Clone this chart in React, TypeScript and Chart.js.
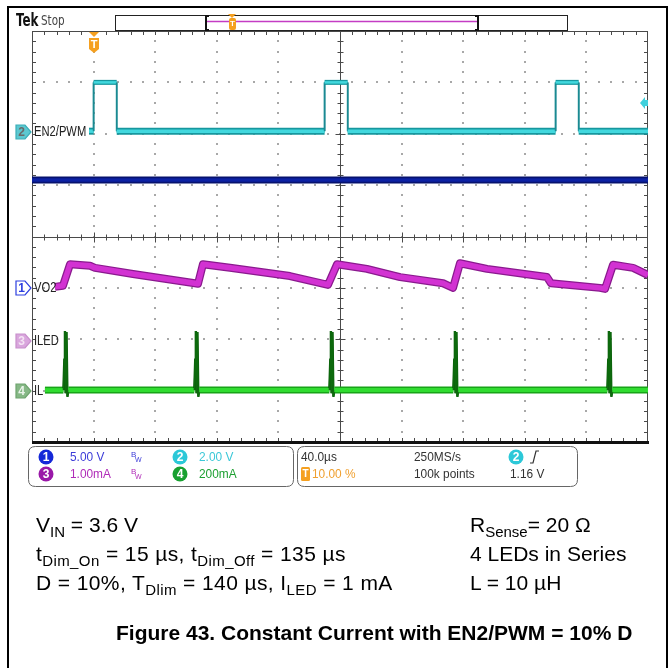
import React, { useEffect, useRef } from "react";
import { Chart, registerables } from "chart.js";

Chart.register(...registerables);

// Horizontal axis: time in µs (40 µs/div, trigger at 0 µs = 10 % of record)
// Vertical axis: screen divisions measured from the graticule centre
const timeRangeUs = [-40, 360];
const divRange = [-4, 4];

// Ch2 – EN2/PWM
const pwmTimeUs = [-3, 0, 0, 15, 15, 150, 150, 165, 165, 300, 300, 315, 315, 360];
const pwmDiv = [2.05, 2.05, 3.0, 3.0, 2.05, 2.05, 3.0, 3.0, 2.05, 2.05, 3.0, 3.0, 2.05, 2.05];

// blue flat trace
const flatTimeUs = [-40, 360];
const flatDiv = [1.1, 1.1];

// VO2 ripple
const vo2TimeUs = [-25.1, -19.9, -15.3, -2.3, 0.9, 25.6, 65.8, 67.8, 71.0, 88.6, 127.5, 152.2, 158.1, 177.5, 199.0, 226.9, 233.4, 237.9, 255.5, 294.4, 297.0, 328.8, 332.1, 337.3, 350.3, 360];
const vo2Div = [-0.98, -0.96, -0.54, -0.57, -0.61, -0.73, -0.91, -0.92, -0.54, -0.61, -0.77, -0.94, -0.54, -0.63, -0.79, -0.91, -1.0, -0.52, -0.63, -0.79, -0.91, -1.0, -1.02, -0.55, -0.61, -0.75];

// IL inductor current with spikes
const ilTimeUs = [
  -31.6, -19.6, -19.0, -18.6, -18.2, -17.6, -17.0, -16.4,
  65.4, 66.0, 66.4, 66.8, 67.4, 68.0, 68.6,
  153.1, 153.7, 154.1, 154.5, 155.1, 155.7, 156.3,
  233.6, 234.2, 234.6, 235.0, 235.6, 236.2, 236.8,
  333.6, 334.2, 334.6, 335.0, 335.6, 336.2, 336.8,
  360,
];
const ilDiv = [
  -2.99, -2.99, -2.4, -1.84, -3.05, -1.86, -3.12, -2.99,
  -2.99, -2.4, -1.84, -3.05, -1.86, -3.12, -2.99,
  -2.99, -2.4, -1.84, -3.05, -1.86, -3.12, -2.99,
  -2.99, -2.4, -1.84, -3.05, -1.86, -3.12, -2.99,
  -2.99, -2.4, -1.84, -3.05, -1.86, -3.12, -2.99,
  -2.99,
];

const PAD = { left: 32, top: 31, right: 23, bottom: 226 };
const W = 671;
const H = 668;

const xy = (xs: number[], ys: number[]) => xs.map((x, i) => ({ x, y: ys[i] }));
const isFlat = (c: any) => Math.abs(c.p0.parsed.y - c.p1.parsed.y) < 0.08;

function narrow(ctx: CanvasRenderingContext2D, text: string, x: number, y: number, font: string, color: string, sx = 0.85) {
  ctx.save();
  ctx.font = font;
  ctx.fillStyle = color;
  ctx.textBaseline = "middle";
  ctx.textAlign = "left";
  ctx.translate(x, y);
  ctx.scale(sx, 1);
  ctx.fillText(text, 0, 0);
  ctx.restore();
}

function line(ctx: CanvasRenderingContext2D, x1: number, y1: number, x2: number, y2: number) {
  ctx.beginPath();
  ctx.moveTo(x1, y1);
  ctx.lineTo(x2, y2);
  ctx.stroke();
}

function rrect(ctx: CanvasRenderingContext2D, x: number, y: number, w: number, h: number, r: number) {
  ctx.beginPath();
  ctx.moveTo(x + r, y);
  ctx.lineTo(x + w - r, y);
  ctx.quadraticCurveTo(x + w, y, x + w, y + r);
  ctx.lineTo(x + w, y + h - r);
  ctx.quadraticCurveTo(x + w, y + h, x + w - r, y + h);
  ctx.lineTo(x + r, y + h);
  ctx.quadraticCurveTo(x, y + h, x, y + h - r);
  ctx.lineTo(x, y + r);
  ctx.quadraticCurveTo(x, y, x + r, y);
  ctx.closePath();
}

const NARROW = '"Liberation Sans", Arial, sans-serif';

function drawGraticule(ctx: CanvasRenderingContext2D, a: any) {
  const L = a.left, T = a.top, R = a.right, B = a.bottom;
  const dx = (R - L) / 10, dy = (B - T) / 8;
  ctx.save();
  ctx.fillStyle = "#a8a8a8";
  for (let i = 1; i < 10; i++) {
    if (i === 5) continue;
    const x = Math.round(L + i * dx);
    for (let k = 1; k < 40; k++) {
      const y = Math.round(T + (k * dy) / 5);
      ctx.fillRect(x - 1, y - 1, 2, 2);
    }
  }
  for (let j = 1; j < 8; j++) {
    if (j === 4) continue;
    const y = Math.round(T + j * dy);
    for (let k = 1; k < 50; k++) {
      const x = Math.round(L + (k * dx) / 5);
      ctx.fillRect(x - 1, y - 1, 2, 2);
    }
  }
  ctx.strokeStyle = "#4a4a4a";
  ctx.lineWidth = 1;
  const cx = Math.round(L + 5 * dx) + 0.5;
  const cy = Math.round(T + 4 * dy) + 0.5;
  line(ctx, cx, T, cx, B);
  line(ctx, L, cy, R, cy);
  for (let k = 1; k < 40; k++) {
    const y = Math.round(T + (k * dy) / 5) + 0.5;
    const len = k % 5 === 0 ? 5 : 3;
    line(ctx, cx - len, y, cx + len, y);
    line(ctx, L, y, L + 4, y);
    line(ctx, R - 4, y, R, y);
  }
  for (let k = 1; k < 50; k++) {
    const x = Math.round(L + (k * dx) / 5) + 0.5;
    const len = k % 5 === 0 ? 5 : 3;
    line(ctx, x, cy - len, x, cy + len);
    line(ctx, x, T, x, T + 4);
    line(ctx, x, B - 4, x, B);
  }
  line(ctx, L + 0.5, T, L + 0.5, B);
  line(ctx, R - 0.5, T, R - 0.5, B);
  line(ctx, L, T + 0.5, R, T + 0.5);
  ctx.restore();
}

function chMarker(ctx: CanvasRenderingContext2D, y: number, fill: string, stroke: string, txt: string, txtColor: string) {
  ctx.save();
  ctx.beginPath();
  ctx.moveTo(16, y - 7);
  ctx.lineTo(25, y - 7);
  ctx.lineTo(31, y);
  ctx.lineTo(25, y + 7);
  ctx.lineTo(16, y + 7);
  ctx.closePath();
  ctx.fillStyle = fill;
  ctx.fill();
  ctx.strokeStyle = stroke;
  ctx.lineWidth = 1.2;
  ctx.stroke();
  ctx.fillStyle = txtColor;
  ctx.font = `bold 12px ${NARROW}`;
  ctx.textAlign = "center";
  ctx.textBaseline = "middle";
  ctx.fillText(txt, 21.5, y + 0.5);
  ctx.restore();
}

function circleNum(ctx: CanvasRenderingContext2D, x: number, y: number, fill: string, txt: string) {
  ctx.save();
  ctx.beginPath();
  ctx.arc(x, y, 7.5, 0, Math.PI * 2);
  ctx.fillStyle = fill;
  ctx.fill();
  ctx.fillStyle = "#fff";
  ctx.font = `bold 12px ${NARROW}`;
  ctx.textAlign = "center";
  ctx.textBaseline = "middle";
  ctx.fillText(txt, x, y + 0.5);
  ctx.restore();
}

function bw(ctx: CanvasRenderingContext2D, x: number, y: number, color: string) {
  ctx.save();
  ctx.fillStyle = color;
  ctx.font = `8px ${NARROW}`;
  ctx.textBaseline = "middle";
  ctx.fillText("B", x, y - 2);
  ctx.font = `7px ${NARROW}`;
  ctx.fillText("W", x + 4, y + 3);
  ctx.restore();
}

function drawOverlay(chart: any) {
  const ctx: CanvasRenderingContext2D = chart.ctx;
  const a = chart.chartArea;
  const L = a.left, R = a.right, B = a.bottom;
  ctx.save();
  // thick bottom edge
  ctx.fillStyle = "#111";
  ctx.fillRect(L, B - 1, R - L + 1, 3);

  // header
  narrow(ctx, "Tek", 16, 21, `bold 18px "DejaVu Sans", sans-serif`, "#111", 0.66);
  narrow(ctx, "Stop", 41, 21, `14px "DejaVu Sans", sans-serif`, "#444", 0.74);
  ctx.strokeStyle = "#222";
  ctx.lineWidth = 1;
  ctx.strokeRect(115.5, 15.5, 452, 15);
  ctx.fillStyle = "#fff";
  ctx.fillRect(116, 16, 451, 14);
  ctx.strokeStyle = "#c43cc4";
  ctx.lineWidth = 1.5;
  line(ctx, 207, 21.5, 477, 21.5);
  ctx.strokeStyle = "#111";
  ctx.lineWidth = 2;
  line(ctx, 206, 15, 206, 31);
  line(ctx, 478, 15, 478, 31);
  line(ctx, 206, 16, 209, 16);
  line(ctx, 206, 30, 209, 30);
  line(ctx, 475, 16, 478, 16);
  line(ctx, 475, 30, 478, 30);
  // small T in header
  ctx.fillStyle = "#f5a020";
  ctx.beginPath();
  ctx.moveTo(228, 14);
  ctx.lineTo(236, 14);
  ctx.lineTo(232, 18);
  ctx.closePath();
  ctx.fill();
  rrect(ctx, 229, 18, 7, 12, 2);
  ctx.fill();
  ctx.fillStyle = "#fff";
  ctx.font = `bold 8px ${NARROW}`;
  ctx.textAlign = "center";
  ctx.textBaseline = "middle";
  ctx.fillText("T", 232.5, 24);

  // trigger position marker
  ctx.fillStyle = "#f5a020";
  ctx.beginPath();
  ctx.moveTo(89, 32);
  ctx.lineTo(99, 32);
  ctx.lineTo(94, 37);
  ctx.closePath();
  ctx.fill();
  ctx.beginPath();
  ctx.moveTo(89, 38);
  ctx.lineTo(99, 38);
  ctx.lineTo(99, 49);
  ctx.lineTo(94, 53);
  ctx.lineTo(89, 49);
  ctx.closePath();
  ctx.fill();
  ctx.fillStyle = "#fff";
  ctx.font = `bold 11px ${NARROW}`;
  ctx.fillText("T", 94, 45);

  // trigger level arrow (right)
  ctx.fillStyle = "#3fd0dc";
  ctx.beginPath();
  ctx.moveTo(640, 103);
  ctx.lineTo(645, 97);
  ctx.lineTo(645, 100);
  ctx.lineTo(648, 100);
  ctx.lineTo(648, 106);
  ctx.lineTo(645, 106);
  ctx.lineTo(645, 109);
  ctx.closePath();
  ctx.fill();
  ctx.restore();

  // trace labels
  const lf = `14px ${NARROW}`;
  narrow(ctx, "EN2/PWM", 34, 132, lf, "#222", 0.8);
  narrow(ctx, "VO2", 34, 288, lf, "#222", 0.8);
  narrow(ctx, "ILED", 34, 341, lf, "#222", 0.8);
  narrow(ctx, "IL", 34, 391, lf, "#222", 0.8);

  // channel markers
  chMarker(ctx, 132, "#5cc8d0", "#3aaeb8", "2", "#6a6a6a");
  chMarker(ctx, 288, "#ffffff", "#2c3ee0", "1", "#2c3ee0");
  chMarker(ctx, 341, "#d9a6dd", "#c890cc", "3", "#f4e4f4");
  chMarker(ctx, 391, "#86b886", "#6ea46e", "4", "#eaf4ea");

  // info boxes
  ctx.save();
  ctx.strokeStyle = "#666";
  ctx.lineWidth = 1;
  rrect(ctx, 28.5, 446.5, 265, 40, 7);
  ctx.stroke();
  rrect(ctx, 297.5, 446.5, 280, 40, 7);
  ctx.stroke();
  ctx.restore();

  const f = `13.5px ${NARROW}`;
  const r1 = 457, r2 = 474;
  circleNum(ctx, 46, r1, "#1428d8", "1");
  narrow(ctx, "5.00 V", 70, r1, f, "#3c3cd8", 0.88);
  bw(ctx, 131, r1, "#3c3cd8");
  circleNum(ctx, 180, r1, "#2cc8d8", "2");
  narrow(ctx, "2.00 V", 199, r1, f, "#3cc8d8", 0.88);
  circleNum(ctx, 46, r2, "#9a18a8", "3");
  narrow(ctx, "1.00mA", 70, r2, f, "#b02cb8", 0.88);
  bw(ctx, 131, r2, "#b02cb8");
  circleNum(ctx, 180, r2, "#18a030", "4");
  narrow(ctx, "200mA", 199, r2, f, "#1ea032", 0.88);

  narrow(ctx, "40.0\u00b5s", 301, r1, f, "#333", 0.88);
  narrow(ctx, "250MS/s", 414, r1, f, "#333", 0.88);
  circleNum(ctx, 516, r1, "#2cc8d8", "2");
  ctx.save();
  ctx.strokeStyle = "#333";
  ctx.lineWidth = 1.2;
  ctx.beginPath();
  ctx.moveTo(530, 463);
  ctx.lineTo(533, 463);
  ctx.lineTo(536, 451);
  ctx.lineTo(539, 451);
  ctx.stroke();
  ctx.fillStyle = "#f5a020";
  rrect(ctx, 301, 467, 9, 14, 1.5);
  ctx.fill();
  ctx.fillStyle = "#fff";
  ctx.font = `bold 10px ${NARROW}`;
  ctx.textAlign = "center";
  ctx.textBaseline = "middle";
  ctx.fillText("T", 305.5, 474.5);
  ctx.restore();
  narrow(ctx, "10.00 %", 312, r2, f, "#f0a030", 0.88);
  narrow(ctx, "100k points", 414, r2, f, "#333", 0.88);
  narrow(ctx, "1.16 V", 510, r2, f, "#333", 0.88);
}

const scopePlugin = {
  id: "scopeScreen",
  beforeDraw(chart: any) {
    const ctx = chart.ctx;
    ctx.save();
    ctx.fillStyle = "#fff";
    ctx.fillRect(0, 0, chart.width, chart.height);
    ctx.restore();
  },
  beforeDatasetsDraw(chart: any) {
    drawGraticule(chart.ctx, chart.chartArea);
  },
  afterDatasetsDraw(chart: any) {
    drawOverlay(chart);
  },
};

function makeDatasets() {
  const base = { pointRadius: 0, fill: false, tension: 0, borderCapStyle: "butt", borderJoinStyle: "miter" };
  return [
    { ...base, label: "flat-under", data: xy(flatTimeUs, flatDiv), borderColor: "#06126e", borderWidth: 7, order: 10 },
    { ...base, label: "flat", data: xy(flatTimeUs, flatDiv), borderColor: "#0c22a4", borderWidth: 3.5, order: 9 },
    {
      ...base, label: "pwm-under", data: xy(pwmTimeUs, pwmDiv), borderColor: "#14969c", borderWidth: 7, order: 8,
      segment: {
        borderWidth: (c: any) => (isFlat(c) ? (c.p0.parsed.y > 2.5 ? 5 : 7) : 1.6),
        borderColor: (c: any) => (isFlat(c) ? "#17979e" : "#1a8a92"),
      },
    },
    {
      ...base, label: "pwm", data: xy(pwmTimeUs, pwmDiv), borderColor: "#3fd6dc", borderWidth: 4, order: 7,
      segment: {
        borderWidth: (c: any) => (isFlat(c) ? (c.p0.parsed.y > 2.5 ? 2.5 : 3.5) : 1.6),
        borderColor: (c: any) => (isFlat(c) ? "#42d8de" : "#1a8a92"),
      },
    },
    { ...base, borderJoinStyle: "round", label: "vo2-under", data: xy(vo2TimeUs, vo2Div), borderColor: "#8a1a8e", borderWidth: 8, order: 6 },
    { ...base, borderJoinStyle: "round", label: "vo2", data: xy(vo2TimeUs, vo2Div), borderColor: "#d232d2", borderWidth: 5.5, order: 5 },
    {
      ...base, label: "il-under", data: xy(ilTimeUs, ilDiv), borderColor: "#17a617", borderWidth: 7, order: 4,
      segment: {
        borderWidth: (c: any) => (isFlat(c) ? 7 : 2.4),
        borderColor: (c: any) => (isFlat(c) ? "#18a418" : "#0b5e0b"),
      },
    },
    {
      ...base, label: "il", data: xy(ilTimeUs, ilDiv), borderColor: "#2ee02e", borderWidth: 4, order: 3,
      segment: {
        borderWidth: (c: any) => (isFlat(c) ? 4 : 1.4),
        borderColor: (c: any) => (isFlat(c) ? "#30dc30" : "#0d6a0d"),
      },
    },
  ];
}

const txt: React.CSSProperties = {
  position: "absolute",
  fontFamily: '"Liberation Sans", Arial, Helvetica, sans-serif',
  fontSize: 21,
  lineHeight: "24px",
  color: "#000",
  whiteSpace: "nowrap",
};

function Sub({ children }: { children: React.ReactNode }) {
  return <span style={{ fontSize: 15, position: "relative", top: 5 }}>{children}</span>;
}

export default function App() {
  const ref = useRef<HTMLCanvasElement | null>(null);
  useEffect(() => {
    if (!ref.current) return;
    const chart = new Chart(ref.current, {
      type: "line",
      data: { datasets: makeDatasets() as any },
      options: {
        animation: false,
        responsive: false,
        devicePixelRatio: 1,
        events: [],
        layout: { padding: PAD },
        plugins: { legend: { display: false }, tooltip: { enabled: false } },
        scales: {
          x: { type: "linear", min: timeRangeUs[0], max: timeRangeUs[1], display: false },
          y: { type: "linear", min: divRange[0], max: divRange[1], display: false },
        },
      },
      plugins: [scopePlugin as any],
    });
    return () => chart.destroy();
  }, []);

  return (
    <div style={{ position: "fixed", left: 0, top: 0, width: W, height: H, background: "#fff", overflow: "hidden" }}>
      <canvas ref={ref} width={W} height={H} style={{ position: "absolute", left: 0, top: 0, width: W, height: H }} />
      <div style={{ position: "absolute", left: 7, top: 6, width: 657, height: 700, border: "2px solid #000", pointerEvents: "none" }} />
      <div style={{ ...txt, left: 36, top: 513 }}>V<Sub>IN</Sub> = 3.6 V</div>
      <div style={{ ...txt, left: 36, top: 542, letterSpacing: 0.4 }}>t<Sub>Dim_On</Sub> = 15 µs, t<Sub>Dim_Off</Sub> = 135 µs</div>
      <div style={{ ...txt, left: 36, top: 571, letterSpacing: 0.4 }}>D = 10%, T<Sub>Dlim</Sub> = 140 µs, I<Sub>LED</Sub> = 1 mA</div>
      <div style={{ ...txt, left: 470, top: 513 }}>R<Sub>Sense</Sub>= 20 Ω</div>
      <div style={{ ...txt, left: 470, top: 542 }}>4 LEDs in Series</div>
      <div style={{ ...txt, left: 470, top: 571 }}>L = 10 µH</div>
      <div style={{ ...txt, left: 116, top: 621, fontWeight: "bold" }}>Figure 43. Constant Current with EN2/PWM = 10% D</div>
    </div>
  );
}
